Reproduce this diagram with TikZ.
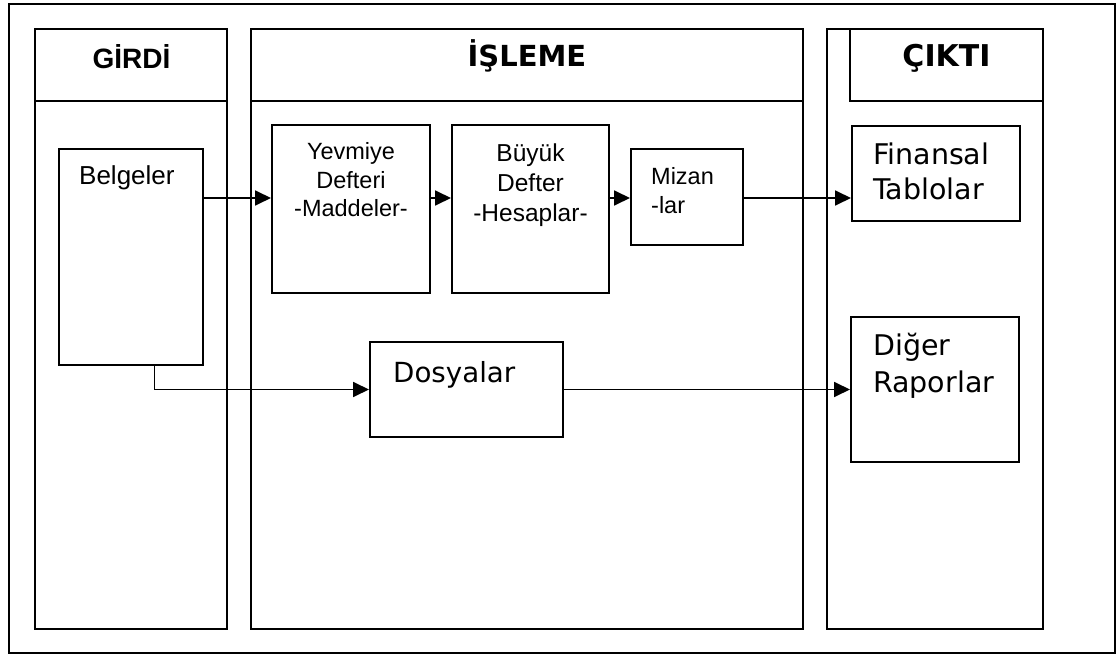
\documentclass[tikz,border=0pt]{standalone}
\usepackage{fontspec}
\setmainfont{Liberation Sans}
\newfontfamily\verd{DejaVu Sans}
\newfontfamily\arial{Liberation Sans}
\usetikzlibrary{arrows.meta,calc}
\begin{document}
\begin{tikzpicture}[x=1pt,y=-1pt,
  box/.style={draw,line width=2pt,inner sep=0pt,minimum width=#1},
  conn/.style={line width=1.8pt,-{Triangle[length=16pt,width=15pt]}},
  lbl/.style={inner sep=0pt,anchor=base}]
\useasboundingbox (0,0) rectangle (1117,655);
% frame and columns
\node[box=1106pt,minimum height=649pt] (frame) at (562,328.5) {};
\node[box=192pt,minimum height=600pt] (girdi) at (131,329) {};
\node[box=192pt,minimum height=72pt] (girdih) at (131,65) {};
\node[box=552pt,minimum height=600pt] (isleme) at (527,329) {};
\node[box=552pt,minimum height=72pt] (islemeh) at (527,65) {};
\node[box=216pt,minimum height=600pt] (cikti) at (935,329) {};
\node[box=193pt,minimum height=72pt] (ciktih) at (946.5,65) {};
% headers
\node[lbl,font=\arial\fontsize{28}{32}\selectfont\bfseries] (tgirdi) at (131.5,69) {GİRDİ};
\node[lbl,font=\verd\fontsize{29}{33}\selectfont\bfseries] (tisleme) at (527,67) {İŞLEME};
\node[lbl,font=\verd\fontsize{30}{34}\selectfont\bfseries] (tcikti) at (946.5,67) {ÇIKTI};
% boxes
\node[box=144pt,minimum height=216pt] (belg) at (130.5,257) {};
\node[box=158pt,minimum height=168pt] (yev) at (351,209) {};
\node[box=157pt,minimum height=168pt] (buyuk) at (530.5,209) {};
\node[box=112pt,minimum height=96pt] (mizan) at (687,197) {};
\node[box=168pt,minimum height=95pt] (fin) at (936,173.5) {};
\node[box=168pt,minimum height=145pt] (diger) at (935,389.5) {};
\node[box=193pt,minimum height=95pt] (dos) at (466.5,389.5) {};
% texts (multi-line nodes: base anchor = last line's baseline)
\node[lbl,anchor=base west,font=\arial\fontsize{26}{30}\selectfont] (tbelg) at (79,185) {Belgeler};
\node[lbl,align=center,font=\arial\fontsize{23.5}{28.5}\selectfont] (tyev) at (351,217) {Yevmiye\\Defteri\\-Maddeler-};
\node[lbl,align=center,font=\arial\fontsize{24.5}{30}\selectfont] (tbuyuk) at (530.5,222) {Büyük\\Defter\\-Hesaplar-};
\node[lbl,anchor=base west,align=left,font=\arial\fontsize{23.5}{29}\selectfont] (tmizan) at (651,214) {Mizan\\-lar};
\node[lbl,anchor=base west,align=left,font=\verd\fontsize{28.5}{35}\selectfont] (tfin) at (873,200) {Finansal\\Tablolar};
\node[lbl,anchor=base west,align=left,font=\verd\fontsize{28.5}{37}\selectfont] (tdiger) at (873,392) {Diğer\\Raporlar};
\node[lbl,anchor=base west,font=\verd\fontsize{27.7}{32}\selectfont] (tdos) at (393,382) {Dosyalar};
% connectors
\coordinate (y1) at (0,198);
\draw[conn] (belg.east |- y1) -- (yev.west |- y1);
\draw[conn] (yev.east |- y1) -- (buyuk.west |- y1);
\draw[conn] (buyuk.east |- y1) -- (mizan.west |- y1);
\draw[conn] (mizan.east |- y1) -- (fin.west |- y1);
\draw[conn] ($(belg.south)+(24,0)$) |- (dos.west);
\draw[conn] (dos.east) -- (diger.west);
\end{tikzpicture}
\end{document}
